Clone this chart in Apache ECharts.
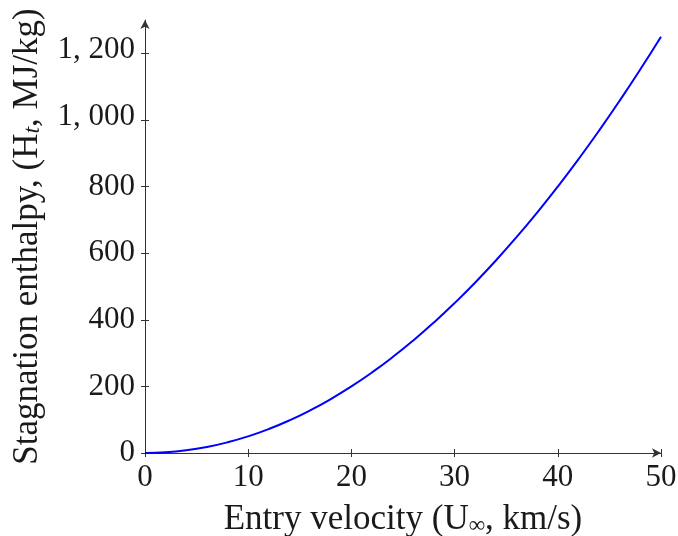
<!DOCTYPE html>
<html><head><meta charset="utf-8">
<script src="https://cdn.jsdelivr.net/npm/echarts@6/dist/echarts.min.js"></script>
<style>html,body{margin:0;padding:0;background:#fff}#c{width:678px;height:536px}</style>
</head><body><div id="c"></div>
<script>
// Entry velocity (km/s)
var velocity = [0,2,4,6,8,10,12,14,16,18,20,22,24,26,28,30,32,34,36,38,40,42,44,46,48,50];
// Stagnation enthalpy (MJ/kg)
var enthalpy = [0,2,8,18,32,50,72,98,128,162,200,242,288,338,392,450,512,578,648,722,800,882,968,1058,1152,1250];
var xTicks = [0,10,20,30,40,50];
var yTicks = [0,200,400,600,800,1000,1200];
var yTickLabels = ['0','200','400','600','800','1, 000','1, 200'];

var FONT = 'Liberation Serif';
var axisColor = '#333';
var TXT = '#1a1a1a';
var chart = echarts.init(document.getElementById('c'));
var pts = velocity.map(function(v,i){return [v, enthalpy[i]];});
function fmtY(v){
  var i = yTicks.indexOf(v);
  if (i < 0) return '';
  var s = yTickLabels[i];
  return s.indexOf(',') >= 0 ? '{c|' + s + '}' : s;
}
chart.setOption({
  animation:false,
  grid:{left:145,right:17,top:20,bottom:83,containLabel:false,outerBoundsMode:'none'},
  xAxis:[{
    type:'value',min:0,max:50,interval:10,
    axisLine:{show:true,lineStyle:{color:axisColor,width:1},symbol:['none','arrow'],symbolSize:[7,9]},
    axisTick:{show:true,length:4,lineStyle:{color:axisColor},customValues:xTicks},
    axisLabel:{fontFamily:FONT,fontSize:31,color:TXT,margin:9,customValues:xTicks},
    splitLine:{show:false},
    name:'Entry velocity (U{s|∞}, km/s)',nameLocation:'middle',nameGap:49,
    nameTextStyle:{fontFamily:FONT,fontSize:35,color:TXT,rich:{s:{fontFamily:FONT,fontSize:23,color:TXT,verticalAlign:'bottom',lineHeight:10}}}
  },{
    type:'value',min:0,max:50,interval:10,position:'bottom',
    axisLine:{show:false},
    axisTick:{show:true,inside:true,length:4,lineStyle:{color:axisColor},customValues:xTicks},
    axisLabel:{show:false},splitLine:{show:false}
  }],
  yAxis:[{
    type:'value',min:0,max:1300,interval:100,
    axisLine:{show:true,lineStyle:{color:axisColor,width:1},symbol:['none','arrow'],symbolSize:[7,9]},
    axisTick:{show:true,length:4,lineStyle:{color:axisColor},customValues:yTicks},
    axisLabel:{fontFamily:FONT,fontSize:31,color:TXT,margin:10,customValues:yTicks,formatter:fmtY,
      rich:{c:{fontFamily:FONT,fontSize:31,color:TXT,padding:[0,0,7,0]}}},
    splitLine:{show:false},
    name:'Stagnation enthalpy, (H{t|t}, MJ/kg)',nameLocation:'middle',nameRotate:90,nameGap:100,
    nameTextStyle:{fontFamily:FONT,fontSize:35,color:TXT,rich:{t:{fontFamily:FONT,fontSize:24,fontStyle:'italic',color:TXT,verticalAlign:'bottom',lineHeight:10}}}
  },{
    type:'value',min:0,max:1300,interval:100,position:'left',
    axisLine:{show:false},
    axisTick:{show:true,inside:true,length:4,lineStyle:{color:axisColor},customValues:yTicks},
    axisLabel:{show:false},splitLine:{show:false}
  }],
  series:[{
    type:'line',data:pts,smooth:true,showSymbol:false,
    lineStyle:{color:'#0000ff',width:2},itemStyle:{color:'#0000ff'}
  }]
});
</script></body></html>
